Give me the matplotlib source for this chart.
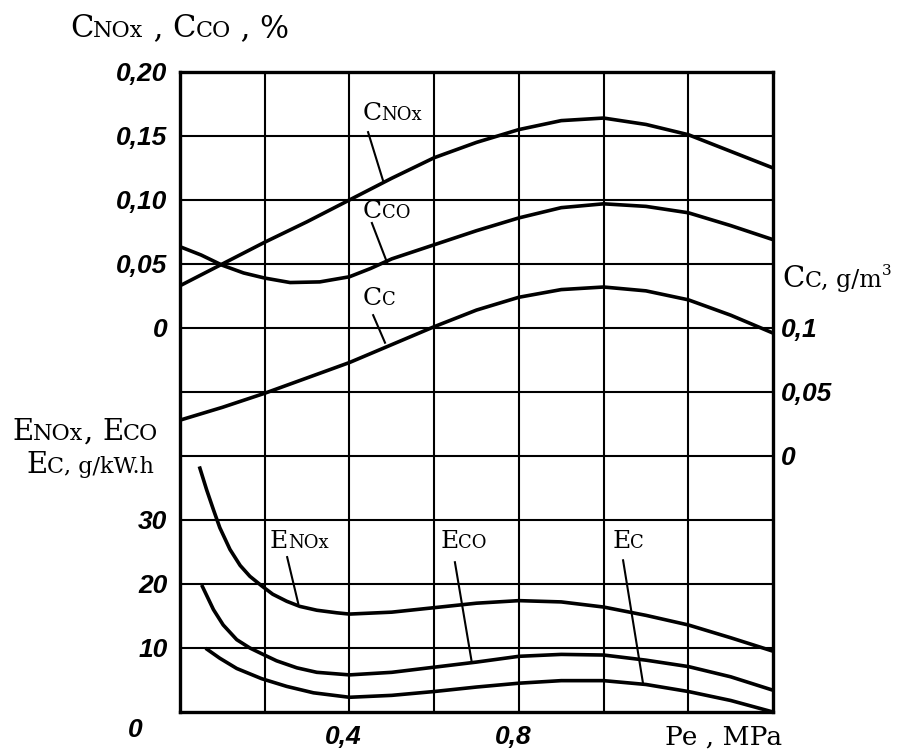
import matplotlib.pyplot as plt
import matplotlib.transforms as mtransforms

# Pe, MPa and concentrations (upper part of the chart)
pe_cnox = [0.0, 0.1, 0.2, 0.3, 0.4, 0.5, 0.6, 0.7, 0.8, 0.9, 1.0, 1.1, 1.2, 1.3, 1.4]
c_nox = [0.033, 0.050, 0.067, 0.083, 0.100, 0.117, 0.133, 0.145, 0.155, 0.162, 0.164, 0.159, 0.151, 0.138, 0.125]
pe_cco = [0.0, 0.05, 0.1, 0.15, 0.2, 0.26, 0.33, 0.4, 0.45, 0.5, 0.6, 0.7, 0.8, 0.9, 1.0, 1.1, 1.2, 1.3, 1.4]
c_co = [0.0635, 0.057, 0.049, 0.043, 0.039, 0.0355, 0.036, 0.040, 0.0465, 0.054, 0.065, 0.076, 0.086, 0.094, 0.097,
        0.095, 0.090, 0.080, 0.069]
pe_cc = [0.0, 0.1, 0.2, 0.3, 0.4, 0.5, 0.6, 0.7, 0.8, 0.9, 1.0, 1.1, 1.2, 1.3, 1.4]
c_c = [0.028, 0.038, 0.049, 0.061, 0.073, 0.087, 0.101, 0.114, 0.124, 0.130, 0.132, 0.129, 0.122, 0.110, 0.096]

# emissions, g/kW.h (lower part)
pe_enox = [0.047, 0.063, 0.079, 0.094, 0.118, 0.142, 0.165, 0.193, 0.219, 0.252, 0.283, 0.323, 0.37, 0.4,
           0.5, 0.6, 0.7, 0.8, 0.9, 1.0, 1.1, 1.2, 1.3, 1.4]
e_nox = [38.1, 34.7, 31.6, 28.8, 25.4, 22.9, 21.2, 19.7, 18.4, 17.3, 16.5, 15.9, 15.5, 15.3,
         15.6, 16.3, 17.0, 17.4, 17.2, 16.4, 15.1, 13.6, 11.6, 9.5]
pe_eco = [0.053, 0.079, 0.102, 0.134, 0.165, 0.193, 0.228, 0.276, 0.323, 0.4,
          0.5, 0.6, 0.7, 0.8, 0.9, 1.0, 1.1, 1.2, 1.3, 1.4]
e_co = [19.6, 16.0, 13.6, 11.3, 10.0, 9.1, 8.0, 6.9, 6.2, 5.8,
        6.2, 7.0, 7.8, 8.7, 9.0, 8.9, 8.1, 7.1, 5.5, 3.4]
pe_ec = [0.064, 0.094, 0.134, 0.193, 0.252, 0.315, 0.4,
         0.5, 0.6, 0.7, 0.8, 0.9, 1.0, 1.1, 1.2, 1.3, 1.4]
e_c = [9.8, 8.4, 6.8, 5.2, 4.0, 3.0, 2.3,
       2.6, 3.2, 3.9, 4.5, 4.9, 4.9, 4.3, 3.2, 1.8, 0.0]

left_top_vals = [0, 0.05, 0.10, 0.15, 0.20]
left_top_labels = ["0", "0,05", "0,10", "0,15", "0,20"]
left_bot_vals = [10, 20, 30]
left_bot_labels = ["10", "20", "30"]
right_vals = [0, 0.05, 0.1]
right_labels = ["0", "0,05", "0,1"]
x_vals = [0.4, 0.8]
x_labels = ["0,4", "0,8"]


# each scale mapped onto the grid rows (0..10)
def row_c(v):
    return 6 + v / 0.05


def row_cc(v):
    return 4 + v / 0.05


def row_e(v):
    return v / 10.0


serif = "DejaVu Serif"
tick_font = dict(family="Liberation Sans", weight="bold", style="italic", size=19)

fig = plt.figure(figsize=(8.99, 7.56), dpi=100)
ax = fig.add_axes([0.2002, 0.0582, 0.6597, 0.8466])
ax.set_xlim(0, 1.4)
ax.set_ylim(0, 10)

for i in range(1, 7):
    ax.axvline(i * 0.2, color="black", lw=1.5, zorder=1)
for j in range(1, 10):
    ax.axhline(j, color="black", lw=1.5, zorder=1)
for s in ax.spines.values():
    s.set_linewidth(2.4)

lw = 2.6
ax.plot(pe_cnox, [row_c(v) for v in c_nox], color="black", lw=lw)
ax.plot(pe_cco, [row_c(v) for v in c_co], color="black", lw=lw)
ax.plot(pe_cc, [row_cc(v) for v in c_c], color="black", lw=lw)
ax.plot(pe_enox, [row_e(v) for v in e_nox], color="black", lw=lw)
ax.plot(pe_eco, [row_e(v) for v in e_co], color="black", lw=lw)
ax.plot(pe_ec, [row_e(v) for v in e_c], color="black", lw=lw)

# ticks
ax.tick_params(length=0, pad=9)
ax.set_xticks(x_vals)
ax.set_xticklabels(x_labels, **tick_font)
shift = mtransforms.ScaledTranslation(-0.06, 0, fig.dpi_scale_trans)
for lab in ax.get_xticklabels():
    lab.set_transform(lab.get_transform() + shift)
ax.set_yticks([row_c(v) for v in left_top_vals] + [row_e(v) for v in left_bot_vals])
ax.set_yticklabels(left_top_labels + left_bot_labels, **tick_font)
ax.text(-0.105, -0.28, "0", ha="center", va="center", **tick_font)

ax2 = ax.twinx()
ax2.set_ylim(0, 10)
ax2.tick_params(length=0, pad=6)
ax2.set_yticks([row_cc(v) for v in right_vals])
ax2.set_yticklabels(right_labels, **tick_font)
for s in ax2.spines.values():
    s.set_visible(False)

renderer = fig.canvas.get_renderer()


def caps_label(x, y, parts, coords):
    # small-caps looking text: pieces (text, size[, raise in px]) set on one baseline
    dx = 0.0
    for part in parts:
        txt, size = part[0], part[1]
        dy = part[2] if len(part) > 2 else 0
        tr = mtransforms.offset_copy(coords, fig=fig, x=dx, y=dy, units="dots")
        t = fig.text(x, y, txt, fontsize=size, family=serif, va="baseline",
                     ha="left", transform=tr)
        dx += t.get_window_extent(renderer).width


W, H = 899.0, 756.0
T = fig.transFigure
caps_label(70 / W, 1 - 37 / H, [("C", 22), ("NOx", 16), (" , ", 22), ("C", 22), ("CO", 16), (" , %", 22)], T)
caps_label(12 / W, 1 - 440 / H, [("E", 21), ("NOx", 16), (", ", 21), ("E", 21), ("CO", 16)], T)
caps_label(26 / W, 1 - 473 / H, [("E", 21), ("C", 16), (", g/kW.h", 16)], T)
caps_label(782 / W, 1 - 287 / H, [("C", 21), ("C", 16), (", g/m", 17), ("3", 11, 12)], T)
caps_label(665 / W, 1 - 745 / H, [("Pe , MPa", 19)], T)

# curve labels with leader lines
D = ax.transData
caps_label(0.43, 9.25, [("C", 18), ("NOx", 13)], D)
caps_label(0.432, 7.72, [("C", 18), ("CO", 13)], D)
caps_label(0.432, 6.36, [("C", 18), ("C", 13)], D)
caps_label(0.2125, 2.56, [("E", 18), ("NOx", 13)], D)
caps_label(0.614, 2.56, [("E", 18), ("CO", 13)], D)
caps_label(1.02, 2.56, [("E", 18), ("C", 13)], D)

leaders = [
    ((0.444, 9.06), (0.479, 8.31)),
    ((0.453, 7.64), (0.489, 7.02)),
    ((0.456, 6.20), (0.484, 5.77)),
    ((0.253, 2.42), (0.279, 1.70)),
    ((0.649, 2.34), (0.689, 0.77)),
    ((1.046, 2.37), (1.093, 0.45)),
]
for (x0, y0), (x1, y1) in leaders:
    ax.plot([x0, x1], [y0, y1], color="black", lw=1.5)

fig.savefig("out.png", dpi=100)
